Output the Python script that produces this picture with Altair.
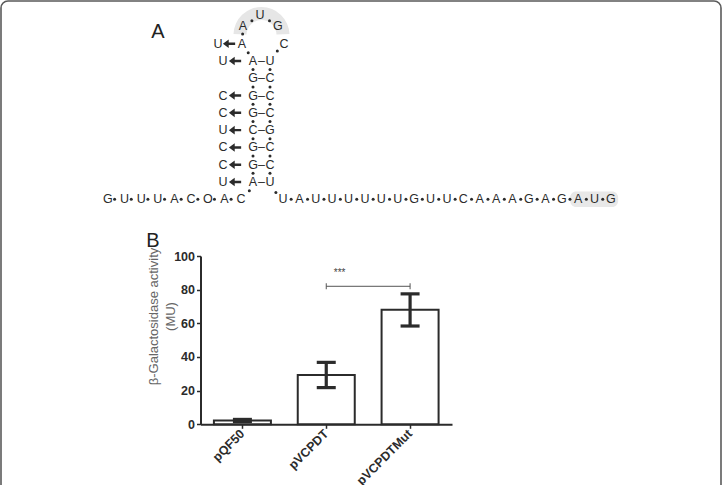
import altair as alt
import pandas as pd

# ---------------- Panel B: reporter activity ----------------
constructs = ["pQF50", "pVCPDT", "pVCPDTMut"]
activity = [2.2, 29.3, 68.0]
activity_low = [1.6, 21.8, 58.4]
activity_high = [2.9, 36.8, 77.5]
activity_ticks = [0, 20, 40, 60, 80, 100]
compared = ["pVCPDT", "pVCPDTMut"]
bracket_level = [82]
stars = ["***"]
stars_level = [90]

# ---------------- Panel A: hairpin ----------------
stem_5p = ["A", "G", "G", "G", "C", "G", "G", "A"]        # top to bottom
stem_3p = ["U", "C", "C", "C", "G", "C", "C", "U"]
stem_subst = ["U", "", "C", "C", "U", "C", "C", "U"]      # substituted base
loop_seq = ["A", "A", "U", "G", "C"]                       # 5' to 3'
loop_subst = ["U", "", "", "", ""]
tail_5p = ["G", "U", "U", "U", "A", "C", "O", "A", "C"]
tail_3p = ["U", "A", "U", "U", "U", "U", "U", "U", "G", "U", "U",
           "C", "A", "A", "A", "G", "A", "G", "A", "U", "G"]
start_codon_len = 3
panel_tags = ["A", "B"]

# ---------------- styling / layout ----------------
FONT = "Liberation Sans"
INK = "#2b2b2b"

# hairpin geometry: x in nucleotide steps from the stem axis, y in rows
HALF = 0.53
ARROW_DX, SUBST_DX = 1.125, 1.875
LOOP_ARROW_DX, LOOP_SUBST_DX = 0.81, 1.5
STEM_ROW0 = 3
TAIL_ROW = STEM_ROW0 + len(stem_5p)
LOOP_SLOTS = [(-1.22, 2), (-1.16, 1), (-0.1, 0.35), (1.03, 1), (1.4, 2)]
LOOP_DOTS = [(-1.18, 1.44), (-0.6, 0.68), (0.5, 0.68)]
JOIN_DOTS = [(-0.83, 2.52), (0.99, 2.42), (-0.76, 10.5), (0.9, 10.6)]
TAIL5_END, TAIL5_STEP = -1.28, 1.04
TAIL3_START, TAIL3_STEP = 1.34, 1.025
TAG_SLOTS = [(-6.47, 1.35), (-6.78, 13.4)]
ARROW_PATH = ("M -1 0 L -0.05 -0.7 L -0.05 -0.2 L 1 -0.2 L 1 0.2 "
              "L -0.05 0.2 L -0.05 0.7 Z")

letters, arrows, dashes, dots = [], [], [], []

for i, (a, b, s) in enumerate(zip(stem_5p, stem_3p, stem_subst)):
    row = STEM_ROW0 + i
    letters += [{"x": -HALF, "y": row, "t": a}, {"x": HALF, "y": row, "t": b}]
    dashes.append({"x": 0.0, "y": row})
    if s:
        letters.append({"x": -HALF - SUBST_DX, "y": row, "t": s})
        arrows.append({"x": -HALF - ARROW_DX, "y": row})
    if i < len(stem_5p) - 1:
        dots += [{"x": -HALF, "y": row + 0.5}, {"x": HALF, "y": row + 0.5}]

for (lx, ly), base, s in zip(LOOP_SLOTS, loop_seq, loop_subst):
    letters.append({"x": lx, "y": ly, "t": base})
    if s:
        letters.append({"x": lx - LOOP_SUBST_DX, "y": ly, "t": s})
        arrows.append({"x": lx - LOOP_ARROW_DX, "y": ly})

for dx, dy in LOOP_DOTS + JOIN_DOTS:
    dots.append({"x": dx, "y": dy})

n5 = len(tail_5p)
for i, base in enumerate(tail_5p):
    x = TAIL5_END - (n5 - 1 - i) * TAIL5_STEP
    letters.append({"x": x, "y": TAIL_ROW, "t": base})
    if i < n5 - 1:
        dots.append({"x": x + 0.42, "y": TAIL_ROW})

tail3_x = [TAIL3_START + i * TAIL3_STEP for i in range(len(tail_3p))]
for i, (x, base) in enumerate(zip(tail3_x, tail_3p)):
    letters.append({"x": x, "y": TAIL_ROW, "t": base})
    if i < len(tail_3p) - 1:
        dots.append({"x": x + 0.5 * TAIL3_STEP, "y": TAIL_ROW})

codon = pd.DataFrame({
    "x": [tail3_x[-start_codon_len] - 0.5], "x2": [tail3_x[-1] + 0.45],
    "y": [TAIL_ROW - 0.45], "y2": [TAIL_ROW + 0.45],
})
loop_centre = pd.DataFrame({"x": [0.0], "y": [1.5]})
tags = pd.DataFrame({"x": [p[0] for p in TAG_SLOTS], "y": [p[1] for p in TAG_SLOTS], "t": panel_tags})

xs_A = alt.Scale(domain=[-10, 35], range=[100.5, 820.5], nice=False, zero=False)
ys_A = alt.Scale(domain=[0, 11], range=[8.1, 198.3], nice=False, zero=False)
xA = alt.X("x:Q", scale=xs_A, axis=None)
yA = alt.Y("y:Q", scale=ys_A, axis=None)

frame = alt.Chart(pd.DataFrame({"k": [0]})).mark_rect(
    fill="white", fillOpacity=0, stroke="#5a5a5a", strokeWidth=1.6, cornerRadius=7
).encode(x=alt.value(0), x2=alt.value("width"), y=alt.value(0),
         y2=alt.value({"expr": "height + 40"}))

loop_band = alt.Chart(loop_centre).mark_arc(
    outerRadius=28, innerRadius=15, theta=4.75, theta2=7.82, color="#e6e6e6"
).encode(x=xA, y=yA)

codon_box = alt.Chart(codon).mark_rect(color="#e8e8e8", cornerRadius=6).encode(
    x=xA, x2="x2:Q", y=yA, y2="y2:Q")

base_text = alt.Chart(pd.DataFrame(letters)).mark_text(
    font=FONT, fontSize=12.5, color=INK, baseline="middle", align="center"
).encode(x=xA, y=yA, text="t:N")

arrow_marks = alt.Chart(pd.DataFrame(arrows)).mark_point(
    shape=ARROW_PATH, size=150, filled=True, color=INK, opacity=1, strokeWidth=0
).encode(x=xA, y=yA)

dash_text = alt.Chart(pd.DataFrame(dashes)).mark_text(
    text="–", font=FONT, fontSize=12.5, color=INK, baseline="middle", align="center"
).encode(x=xA, y=yA)

dot_marks = alt.Chart(pd.DataFrame(dots)).mark_circle(size=9, color=INK, opacity=1).encode(x=xA, y=yA)

tag_text = alt.Chart(tags).mark_text(
    font=FONT, fontSize=20, color="#222", baseline="middle", align="center"
).encode(x=xA, y=yA, text="t:N")

# ---------------- Panel B chart ----------------
PAD_INNER, PAD_OUTER = 0.32, 0.16
X_RANGE_B = [199.5, 451]
Y_RANGE_B = [423.3, 255]
STEP_B = (X_RANGE_B[1] - X_RANGE_B[0]) / (len(constructs) - PAD_INNER + 2 * PAD_OUTER)
xs_B = alt.Scale(domain=constructs, range=X_RANGE_B, paddingInner=PAD_INNER, paddingOuter=PAD_OUTER)
ys_B = alt.Scale(domain=[0, 100], range=Y_RANGE_B, nice=False, zero=True)

x_axis = alt.Axis(
    orient="bottom", title=None, labelAngle=315, labelAlign="right", labelBaseline="middle",
    labelFont=FONT, labelFontSize=12.5, labelFontWeight="bold", labelColor=INK,
    labelPadding=3, domainColor=INK, domainWidth=2, tickColor=INK, tickWidth=1.5,
    tickSize=4, offset=-60.7, grid=False,
)
y_axis = alt.Axis(
    orient="left", values=activity_ticks, title=["β-Galactosidase activity", "(MU)"],
    titleFont=FONT, titleFontSize=13, titleFontWeight="normal", titleColor="#666",
    titleLineHeight=17, titleX=-40, titleY=315,
    labelFont=FONT, labelFontSize=12.5, labelFontWeight="bold",
    labelColor=INK, labelPadding=2, domainColor=INK, domainWidth=2, tickColor=INK,
    tickWidth=1.5, tickSize=4, offset=-199.5, grid=False,
)

dfB = pd.DataFrame({"construct": constructs, "activity": activity,
                    "low": activity_low, "high": activity_high})

bars = alt.Chart(dfB).mark_bar(fill="white", stroke=INK, strokeWidth=2).encode(
    x=alt.X("construct:N", sort=constructs, scale=xs_B, axis=x_axis),
    y=alt.Y("activity:Q", scale=ys_B, axis=y_axis),
)
xB = alt.X("construct:N", sort=constructs, scale=xs_B, axis=None)
err_line = alt.Chart(dfB).mark_rule(color=INK, strokeWidth=3.2).encode(
    x=xB, y=alt.Y("low:Q", scale=ys_B, axis=None), y2="high:Q")
cap_low = alt.Chart(dfB).mark_tick(orient="horizontal", size=19, thickness=3.2, color=INK, opacity=1).encode(
    x=xB, y=alt.Y("low:Q", scale=ys_B, axis=None))
cap_high = alt.Chart(dfB).mark_tick(orient="horizontal", size=19, thickness=3.2, color=INK, opacity=1).encode(
    x=xB, y=alt.Y("high:Q", scale=ys_B, axis=None))

pair = pd.DataFrame({"a": [compared[0]], "b": [compared[1]], "y": bracket_level})
bracket = alt.Chart(pair).mark_rule(color="#555", strokeWidth=1).encode(
    x=alt.X("a:N", scale=xs_B, axis=None, bandPosition=0.5),
    x2=alt.X2("b:N", bandPosition=0.5),
    y=alt.Y("y:Q", scale=ys_B, axis=None),
)
ends = pd.DataFrame({"c": compared, "y": bracket_level * len(compared)})
bracket_ends = alt.Chart(ends).mark_tick(orient="vertical", size=6, thickness=1, color="#555", opacity=1).encode(
    x=alt.X("c:N", scale=xs_B, axis=None), y=alt.Y("y:Q", scale=ys_B, axis=None))
# stars sit midway between the two compared bars: end of the first band plus half the gap
star_df = pd.DataFrame({"a": [compared[0]], "y": stars_level, "t": stars})
star_text = alt.Chart(star_df).mark_text(
    font=FONT, fontSize=10, color="#444", baseline="middle", align="center",
    dx=PAD_INNER * STEP_B / 2,
).encode(
    x=alt.X("a:N", scale=xs_B, axis=None, bandPosition=1),
    y=alt.Y("y:Q", scale=ys_B, axis=None),
    text="t:N",
)

chart = alt.layer(
    frame, loop_band, codon_box, base_text, arrow_marks, dash_text, dot_marks, tag_text,
    bars, err_line, cap_low, cap_high, bracket, bracket_ends, star_text,
).resolve_scale(
    x="independent", y="independent"
).properties(
    width=720, height=484,
    autosize=alt.AutoSizeParams(type="none"),
    padding={"left": 1, "top": 1, "right": 5, "bottom": 0},
    background="white",
).configure_view(stroke=None)

chart.save("out.html", embed_options={"renderer": "svg", "actions": False})
